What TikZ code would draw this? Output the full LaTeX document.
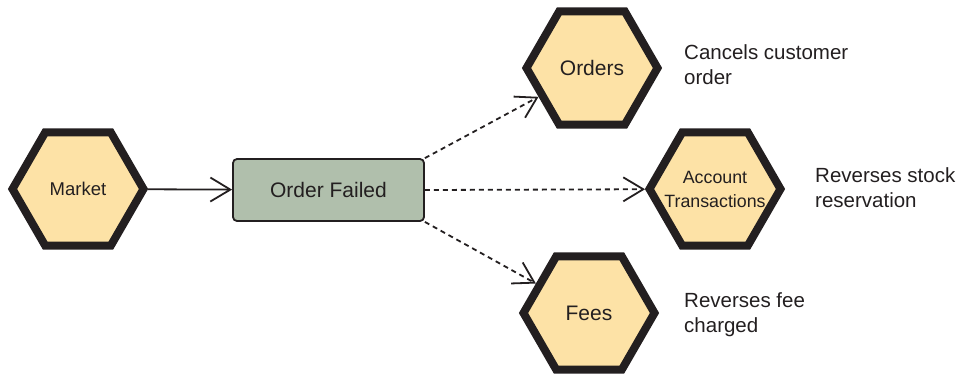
\documentclass[tikz,border=0pt]{standalone}
\usepackage{fontspec}
\setmainfont{Liberation Sans}
\usetikzlibrary{shapes.geometric,arrows.meta}
\definecolor{ink}{HTML}{231F20}
\definecolor{hexfill}{HTML}{FDE2A6}
\definecolor{boxfill}{HTML}{B0BFAC}
\begin{document}
\begin{tikzpicture}[x=1pt,y=1pt,
  hexnode/.style={regular polygon, regular polygon sides=6, minimum size=131pt,
    draw=ink, line width=8pt, fill=hexfill, inner sep=0pt, text=ink, align=center,
    font=\fontsize{21}{23}\selectfont},
  eventbox/.style={rectangle, rounded corners=4pt, draw=ink, line width=1.8pt, fill=boxfill,
    minimum width=191pt, minimum height=62pt, text=ink, font=\fontsize{21}{25}\selectfont},
  note/.style={anchor=west, inner sep=0pt, align=left, text=ink, font=\fontsize{20.5}{25}\selectfont},
  conn/.style={draw=ink, line width=1.8pt, -{Straight Barb[length=20pt,width=24pt]}},
  dconn/.style={conn, dash pattern=on 5pt off 4pt}
]
\useasboundingbox (0,0) rectangle (962,-376);
\node[hexnode, font=\fontsize{18.5}{21}\selectfont] (market) at (78,-189) {Market};
\node[eventbox] (of) at (328.5,-190) {Order Failed};
\node[hexnode] (orders) at (592,-68) {Orders};
\node[hexnode] (acct) at (715,-189) {};
\node[align=center, inner sep=0pt, text=ink, font=\fontsize{17.8}{24}\selectfont] (acctlbl) at (acct.center) {Account\\Transactions};
\node[hexnode] (fees) at (589,-313) {Fees};
\node[note] (n1) at (684,-64.5) {Cancels customer\\order};
\node[note] (n2) at (815,-188) {Reverses stock\\reservation};
\node[note] (n3) at (684,-315) {Reverses fee\\charged};
\draw[conn] (market) -- (of);
\draw[dconn] (of.north east) -- (orders);
\draw[dconn] (of.east) -- (acct);
\draw[dconn] (of.south east) -- (fees);
\end{tikzpicture}
\end{document}
